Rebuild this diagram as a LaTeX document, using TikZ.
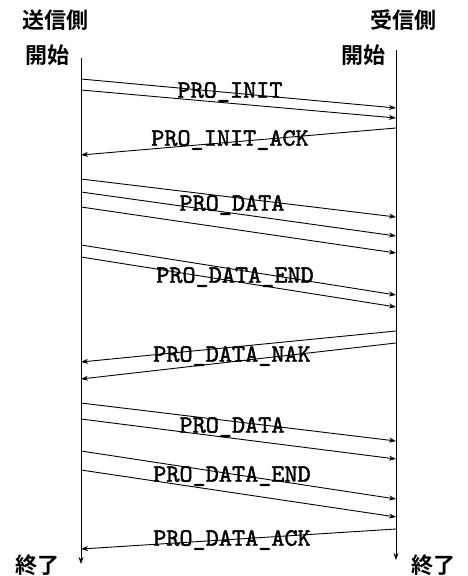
\documentclass[tikz,border=0pt]{standalone}
\usepackage{fontspec}
\newfontfamily\cjk{Noto Sans CJK JP}[BoldFont={* Bold}]
\newfontfamily\lbfont{lmmono10-regular.otf}[FakeBold=1.5]
\usetikzlibrary{arrows.meta}
\begin{document}
\begin{tikzpicture}[x=1pt,y=-1pt,
  msg/.style={line width=0.9pt,-{Stealth[length=7pt,width=5pt]}},
  life/.style={line width=0.9pt,-{Stealth[length=7pt,width=5pt]}},
  lbl/.style={font=\fontsize{25}{25}\lbfont, inner sep=0pt},
  jp/.style={font=\fontsize{22}{22}\cjk\bfseries, inner sep=0pt}]
\useasboundingbox (0,0) rectangle (467,576);
% headers
\node[jp] (snd) at (56,20) {送信側};
\node[jp] (rcv) at (403,20) {受信側};
\node[jp] (sst) at (47,55) {開始};
\node[jp] (rst) at (363,55) {開始};
\node[jp] (send) at (38,565) {終了};
\node[jp] (rend) at (433,565) {終了};
% lifelines
\coordinate (Ltop) at (81,58);
\coordinate (Lbot) at (81,564);
\coordinate (Rtop) at (396,50);
\coordinate (Rbot) at (396,560);
\draw[life] (Ltop) -- (Lbot);
\draw[life] (Rtop) -- (Rbot);
% endpoints
\coordinate (a1) at (81,79);  \coordinate (b1) at (396,108);
\coordinate (a2) at (81,90);  \coordinate (b2) at (396,118);
\coordinate (b3) at (396,128); \coordinate (a3) at (81,155);
\coordinate (a4) at (81,179); \coordinate (b4) at (396,217);
\coordinate (a5) at (81,192); \coordinate (b5) at (396,236);
\coordinate (a6) at (81,207); \coordinate (b6) at (396,253);
\coordinate (a7) at (81,245); \coordinate (b7) at (396,295);
\coordinate (a8) at (81,257); \coordinate (b8) at (396,307);
\coordinate (b9) at (396,331); \coordinate (a9) at (81,362);
\coordinate (b10) at (396,343); \coordinate (a10) at (81,379);
\coordinate (a11) at (81,403); \coordinate (b11) at (396,441);
\coordinate (a12) at (81,419); \coordinate (b12) at (396,459);
\coordinate (a13) at (81,451); \coordinate (b13) at (396,499);
\coordinate (a14) at (81,470); \coordinate (b14) at (396,517);
\coordinate (b15) at (396,529); \coordinate (a15) at (81,549);
% messages
\draw[msg] (a1) -- (b1);
\draw[msg] (a2) -- (b2);
\draw[msg] (b3) -- (a3);
\draw[msg] (a4) -- (b4);
\draw[msg] (a5) -- (b5);
\draw[msg] (a6) -- (b6);
\draw[msg] (a7) -- (b7);
\draw[msg] (a8) -- (b8);
\draw[msg] (b9) -- (a9);
\draw[msg] (b10) -- (a10);
\draw[msg] (a11) -- (b11);
\draw[msg] (a12) -- (b12);
\draw[msg] (a13) -- (b13);
\draw[msg] (a14) -- (b14);
\draw[msg] (b15) -- (a15);
% labels
\node[lbl] (t1) at (230,92) {PRO\_INIT};
\node[lbl] (t2) at (230,140) {PRO\_INIT\_ACK};
\node[lbl] (t3) at (232,205) {PRO\_DATA};
\node[lbl] (t4) at (235,277) {PRO\_DATA\_END};
\node[lbl] (t5) at (232,356) {PRO\_DATA\_NAK};
\node[lbl] (t6) at (232,427) {PRO\_DATA};
\node[lbl] (t7) at (232,476) {PRO\_DATA\_END};
\node[lbl] (t8) at (232,540) {PRO\_DATA\_ACK};
\end{tikzpicture}
\end{document}
